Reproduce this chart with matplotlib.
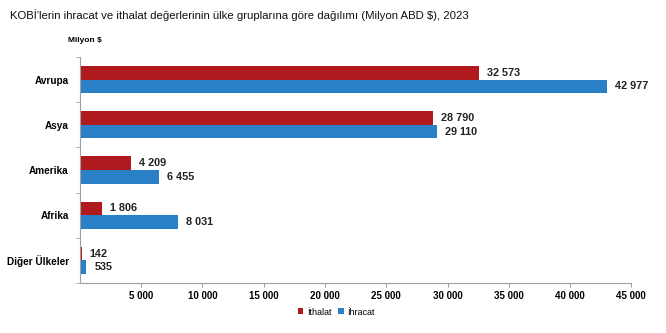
import numpy as np
import matplotlib.pyplot as plt

plt.rcParams['font.family'] = ['Liberation Sans', 'DejaVu Sans']

categories = ["Avrupa", "Asya", "Amerika", "Afrika", "Diğer Ülkeler"]
ithalat = [32573, 28790, 4209, 1806, 142]
ihracat = [42977, 29110, 6455, 8031, 535]
xticks = [5000, 10000, 15000, 20000, 25000, 30000, 35000, 40000, 45000]


def fmt(v):
  return "{:,}".format(v).replace(",", " ")


fig = plt.figure(figsize=(6.66, 3.33), dpi=100)
ax = fig.add_axes([0.120, 0.150, 0.828, 0.679])

red = '#B0191E'
blue = '#2A80C6'
h = 0.30
y = np.arange(len(categories))

ax.barh(y - h / 2, ithalat, height=h, color=red, label='İthalat')
ax.barh(y + h / 2, ihracat, height=h, color=blue, label='İhracat')

for i in range(len(categories)):
  ax.text(ithalat[i] + 650, y[i] - h / 2, fmt(ithalat[i]), va='center', ha='left',
          fontsize=7.8, fontweight='bold', color='#222222')
  ax.text(ihracat[i] + 650, y[i] + h / 2, fmt(ihracat[i]), va='center', ha='left',
          fontsize=7.8, fontweight='bold', color='#222222')

ax.set_ylim(len(categories) - 0.5, -0.5)
ax.set_xlim(0, 45000)
ax.set_yticks(y)
ax.set_yticklabels(categories, fontsize=7.2, fontweight='bold')
ax.set_yticks(np.arange(-0.5, len(categories)), minor=True)
ax.tick_params(axis='y', which='major', length=0, pad=8)
ax.tick_params(axis='y', which='minor', length=3, color='#A0A0A0')
ax.set_xticks(xticks)
ax.set_xticklabels([fmt(v) for v in xticks], fontsize=7, fontweight='bold')
ax.tick_params(axis='x', length=3, color='#A0A0A0', pad=3)

for s in ['top', 'right']:
  ax.spines[s].set_visible(False)
ax.spines['left'].set_color('#A0A0A0')
ax.spines['bottom'].set_color('#A0A0A0')

fig.text(0.015, 0.955, "KOBİ'lerin ihracat ve ithalat değerlerinin ülke gruplarına göre dağılımı (Milyon ABD $), 2023",
         fontsize=8.2, ha='left', va='center', color='#111111')
fig.text(0.102, 0.878, "Milyon $", fontsize=6, fontweight='bold', ha='left', va='center')

fig.legend(loc='center', bbox_to_anchor=(0.505, 0.063), ncol=2, frameon=False, fontsize=6.5,
           handlelength=0.6, handleheight=0.6, handletextpad=0.4, columnspacing=0.8)

fig.savefig('out.png', dpi=100)
